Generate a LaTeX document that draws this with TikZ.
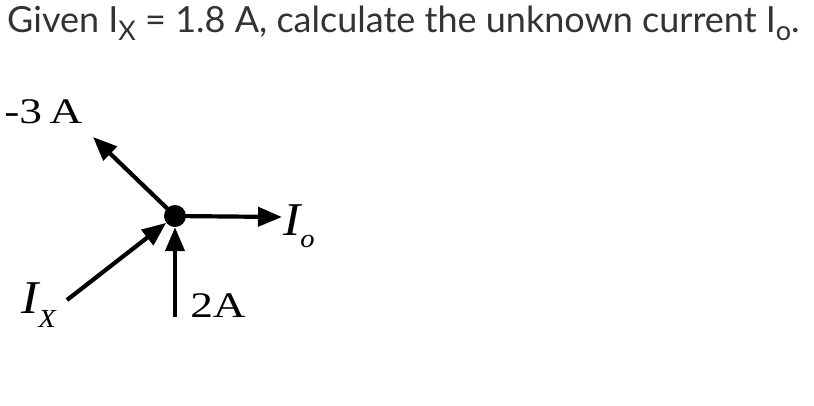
\documentclass[tikz,border=0pt]{standalone}
\usepackage{fontspec}
\setmainfont{Liberation Serif}
\newfontfamily\latofont{Lato}
\usetikzlibrary{arrows.meta}
\definecolor{txtgrey}{HTML}{333333}
\tikzstyle{arrow} = [line width=4.2pt, -{Triangle[length=24pt,width=19pt]}]
\tikzstyle{junction} = [circle, fill=black, inner sep=0pt, minimum size=22pt]
\tikzstyle{lbl} = [inner sep=0pt, anchor=base west, xscale=1.26, font=\fontsize{36}{36}\selectfont]
\tikzstyle{curr} = [inner sep=0pt, anchor=base west, xscale=1.1, font=\fontsize{47}{47}\selectfont\itshape]
\tikzstyle{title} = [inner sep=0pt, anchor=base west, text=txtgrey, font=\latofont\fontsize{36}{36}\selectfont]
\begin{document}
\begin{tikzpicture}[x=1pt, y=-1pt]
\useasboundingbox (0,0) rectangle (814,405);
\node (head) [title] at (7,32) {Given I\raisebox{-8pt}{\fontsize{27}{27}\selectfont X} = 1.8 A, calculate the unknown current I\raisebox{-8pt}{\fontsize{27}{27}\selectfont o}.};

\node (jn) [junction] at (175,216) {};
\coordinate (mthree) at (93,137);
\coordinate (ix) at (67,300);
\coordinate (two) at (175,317);
\coordinate (io) at (282,217);

\draw [arrow] (jn.center) -- (mthree);
\draw [arrow] (ix) -- (jn);
\draw [arrow] (two) -- (jn);
\draw [arrow] (jn.center) -- (io);

\node (lm) [lbl] at (4,123) {-3\,A};
\node (l2) [lbl] at (190,317) {2A};
\node (lo) [curr] at (283,235) {I\raisebox{-12pt}{\fontsize{26}{26}\selectfont o}};
\node (lx) [curr] at (21,313) {I\raisebox{-14pt}{\fontsize{26}{26}\selectfont X}};
\end{tikzpicture}
\end{document}
